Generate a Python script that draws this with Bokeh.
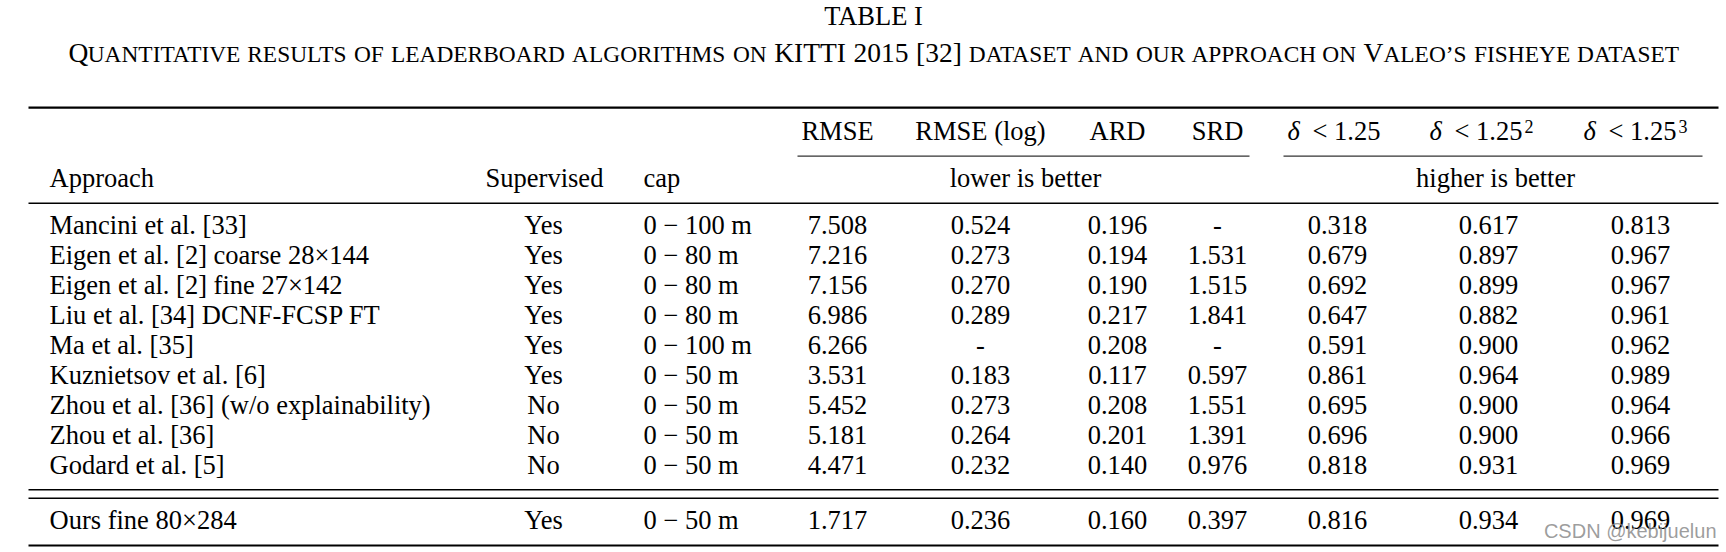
from bokeh.plotting import figure
from bokeh.models import ColumnDataSource, Range1d
from bokeh.core.properties import value
from bokeh.embed import file_html
from bokeh.resources import INLINE

# ---------------- data ----------------
table_title = "TABLE I"
caption_parts = [
    ("Q", "big"),
    ("UANTITATIVE RESULTS OF LEADERBOARD ALGORITHMS ON ", "small"),
    ("KITTI 2015 [32]", "big"),
    (" DATASET AND OUR APPROACH ON ", "small"),
    ("V", "big"),
    ("ALEO\u2019S FISHEYE DATASET", "small"),
]

metric_headers = ["RMSE", "RMSE (log)", "ARD", "SRD"]
delta_powers = ["", "2", "3"]
group_labels = ["lower is better", "higher is better"]
left_headers = ["Approach", "Supervised", "cap"]

approaches = [
    "Mancini et al. [33]",
    "Eigen et al. [2] coarse 28\u00d7144",
    "Eigen et al. [2] fine 27\u00d7142",
    "Liu et al. [34] DCNF-FCSP FT",
    "Ma et al. [35]",
    "Kuznietsov et al. [6]",
    "Zhou et al. [36] (w/o explainability)",
    "Zhou et al. [36]",
    "Godard et al. [5]",
    "Ours fine 80\u00d7284",
]
supervised = ["Yes", "Yes", "Yes", "Yes", "Yes", "Yes", "No", "No", "No", "Yes"]
cap_m = [100, 80, 80, 80, 100, 50, 50, 50, 50, 50]
rmse = [7.508, 7.216, 7.156, 6.986, 6.266, 3.531, 5.452, 5.181, 4.471, 1.717]
rmse_log = [0.524, 0.273, 0.270, 0.289, None, 0.183, 0.273, 0.264, 0.232, 0.236]
ard = [0.196, 0.194, 0.190, 0.217, 0.208, 0.117, 0.208, 0.201, 0.140, 0.160]
srd = [None, 1.531, 1.515, 1.841, None, 0.597, 1.551, 1.391, 0.976, 0.397]
d1 = [0.318, 0.679, 0.692, 0.647, 0.591, 0.861, 0.695, 0.696, 0.818, 0.816]
d2 = [0.617, 0.897, 0.899, 0.882, 0.900, 0.964, 0.900, 0.900, 0.931, 0.934]
d3 = [0.813, 0.967, 0.967, 0.961, 0.962, 0.989, 0.964, 0.966, 0.969, 0.969]
watermark = "CSDN @kebijuelun"

# ---------------- layout ----------------
SERIF = value("Liberation Serif")
BODY = 26.5
W, H = 1726, 552
BASE_SHIFT = 0.36  # em, compensates the renderer's baseline placement

p = figure(width=W, height=H, x_range=Range1d(0, W), y_range=Range1d(H, 0),
           output_backend="svg", toolbar_location=None, min_border=0,
           background_fill_color="white", border_fill_color="white")
p.axis.visible = False
p.grid.visible = False
p.outline_line_color = None


def fmt(v):
    return "-" if v is None else "%.3f" % v


def put(xs, baselines, texts, align="center", size=BODY, font=SERIF, style="normal",
        color="black", alpha=1.0):
    ys = [b - BASE_SHIFT * size for b in baselines]
    src = ColumnDataSource(dict(x=xs, y=ys, t=texts))
    p.text(x="x", y="y", text="t", source=src, text_align=align, text_baseline="alphabetic",
           text_font=font, text_font_size=value("%.2fpx" % size), text_font_style=style,
           text_color=color, text_alpha=alpha)


# title
put([873], [25], [table_title], size=26.5)

# caption in small caps: each word run placed with Times metrics (incl. kerning)
TIMES = {'A': 722, 'B': 667, 'C': 667, 'D': 722, 'E': 611, 'F': 556, 'G': 722, 'H': 722,
         'I': 333, 'K': 722, 'L': 611, 'M': 889, 'N': 722, 'O': 722, 'P': 556, 'Q': 722,
         'R': 667, 'S': 556, 'T': 611, 'U': 722, 'V': 722, 'Y': 722, '[': 333,
         ']': 333, '\u2019': 333}
for dgt in "0123456789":
    TIMES[dgt] = 500
KERN = {"AT": -111, "TA": -93, "AV": -135, "VA": -135, "AY": -105, "YA": -120,
        "LT": -92, "LY": -100, "RT": -60, "RY": -65, "RV": -80, "RU": -40, "RO": -40,
        "DA": -40, "OA": -35, "OT": -40, "PA": -92, "AU": -55, "UA": -40, "NA": -35,
        "AO": -55, "AC": -40, "AG": -40, "AQ": -55, "TO": -18, "VO": -40}


def run_width(s, fs):
    w = sum(TIMES[c] for c in s)
    w += sum(KERN.get(s[i:i + 2], 0) for i in range(len(s) - 1))
    return w * fs / 1000.0


BIG = 27.5
SMALL = 0.85 * BIG
cap_x0, cap_x1 = 68.0, 1678.0

# split into runs (text, size) and spaces
items = []
for t, k in caption_parts:
    fs = BIG if k == "big" else SMALL
    for j, chunk in enumerate(t.split(" ")):
        if j > 0:
            items.append(None)
        if chunk:
            items.append((chunk, fs))
ink = sum(run_width(c, f) for it in items if it for c, f in [it])
nsp = sum(1 for it in items if it is None)
SPACE = (cap_x1 - cap_x0 - ink) / nsp
xcur = cap_x0
for it in items:
    if it is None:
        xcur += SPACE
        continue
    chunk, fs = it
    w = run_width(chunk, fs)
    put([xcur + w / 2.0], [62], [chunk], align="center", size=fs)
    xcur += w


# rules
def rule(x0, x1, y, w, color="black"):
    p.segment(x0=[x0], y0=[y], x1=[x1], y1=[y], line_width=w, line_color=color)


L, R = 28, 1718
rule(L, R, 107.2, 2.2)
rule(797, 1249, 155.7, 1.2, "#333333")
rule(1283, 1702, 155.7, 1.2, "#333333")
rule(L, R, 202.7, 1.6)
rule(L, R, 489.3, 1.6)
rule(L, R, 497.7, 1.6)
rule(L, R, 545.0, 2.2)

# header rows
col_x = [837, 980, 1117, 1217]
put(col_x, [140] * 4, metric_headers)
delta_left = [1287, 1429, 1583]
put(delta_left, [140] * 3, ["\u03b4"] * 3, align="left", style="italic")
put([x + 25 for x in delta_left], [140] * 3, ["< 1.25"] * 3, align="left")
put([x + 95 for x in delta_left[1:]], [132.5] * 2, delta_powers[1:], align="left", size=18)
put([1025, 1495], [186.7] * 2, group_labels)
put([49], [186.7], [left_headers[0]], align="left")
put([544], [186.7], [left_headers[1]])
put([643], [186.7], [left_headers[2]], align="left")

# body
row_base = [234.3 + 30.0 * i for i in range(len(approaches) - 1)] + [529.5]
put([49] * len(row_base), row_base, approaches, align="left")
put([543] * len(row_base), row_base, supervised)
put([643] * len(row_base), row_base, ["0 \u2212 %d m" % c for c in cap_m], align="left")
value_cols = [(837, rmse), (980, rmse_log), (1117, ard), (1217, srd),
              (1337, d1), (1488, d2), (1640, d3)]
for cx, vals in value_cols:
    put([cx] * len(row_base), row_base, [fmt(v) for v in vals])

# watermark
put([1716], [537.4], [watermark], align="right", size=20, font=value("Liberation Sans"),
    color="#8c8c8c", alpha=0.85)

open("out.html", "w").write(file_html(p, INLINE))
